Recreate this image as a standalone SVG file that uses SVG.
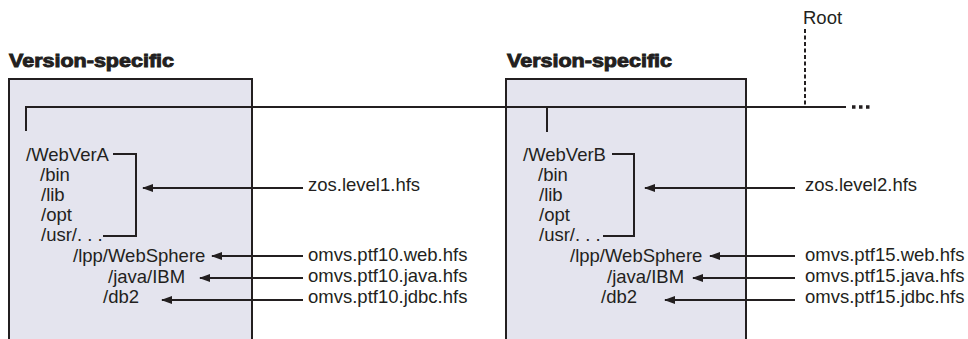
<svg xmlns="http://www.w3.org/2000/svg" width="968" height="339" viewBox="0 0 968 339">
<style>
.box{fill:#e4e4ee;stroke:#231f20;stroke-width:2}
.ln{fill:none;stroke:#231f20;stroke-width:2}
.t{font-family:"Liberation Sans",Arial,sans-serif;font-size:18.5px;fill:#231f20}
.h{font-family:"Liberation Sans",Arial,sans-serif;font-size:18px;font-weight:bold;fill:#231f20;stroke:#231f20;stroke-width:0.9}
</style>
<defs>
<marker id="ah" markerWidth="11" markerHeight="8" refX="10" refY="4" orient="auto" markerUnits="userSpaceOnUse">
<path d="M0,0 L11,4 L0,8 Z" fill="#231f20"/>
</marker>
</defs>
<g id="boxA">
<rect class="box" x="9" y="79" width="243" height="270"/>
<text class="h" x="9" y="67" textLength="165" lengthAdjust="spacingAndGlyphs">Version-specific</text>
<text class="t" x="26" y="161">/WebVerA</text>
<text class="t" x="40" y="181">/bin</text>
<text class="t" x="41" y="201">/lib</text>
<text class="t" x="41" y="221">/opt</text>
<text class="t" x="41" y="241">/usr/. . .</text>
<text class="t" x="73" y="262">/lpp/WebSphere</text>
<text class="t" x="108" y="283">/java/IBM</text>
<text class="t" x="103" y="303">/db2</text>
</g>
<g id="boxB">
<rect class="box" x="506" y="79" width="240" height="270"/>
<text class="h" x="507" y="67" textLength="165" lengthAdjust="spacingAndGlyphs">Version-specific</text>
<text class="t" x="523" y="161">/WebVerB</text>
<text class="t" x="538" y="181">/bin</text>
<text class="t" x="539" y="201">/lib</text>
<text class="t" x="539" y="221">/opt</text>
<text class="t" x="539" y="241">/usr/. . .</text>
<text class="t" x="570" y="262">/lpp/WebSphere</text>
<text class="t" x="607" y="283">/java/IBM</text>
<text class="t" x="601" y="303">/db2</text>
</g>
<g id="root">
<text class="t" x="803" y="24">Root</text>
</g>
<g id="labels">
<text class="t" x="308" y="191">zos.level1.hfs</text>
<text class="t" x="308" y="261">omvs.ptf10.web.hfs</text>
<text class="t" x="308" y="282">omvs.ptf10.java.hfs</text>
<text class="t" x="308" y="303">omvs.ptf10.jdbc.hfs</text>
<text class="t" x="805" y="191">zos.level2.hfs</text>
<text class="t" x="805" y="261">omvs.ptf15.web.hfs</text>
<text class="t" x="805" y="282">omvs.ptf15.java.hfs</text>
<text class="t" x="805" y="303">omvs.ptf15.jdbc.hfs</text>
</g>
<g id="connectors">
<path class="ln" d="M26,131 V107 H846"/>
<path class="ln" d="M547,107 V132"/>
<path d="M805,29 V107" fill="none" stroke="#231f20" stroke-width="2" stroke-dasharray="4,2.5"/>
<path d="M852,107 H870" fill="none" stroke="#231f20" stroke-width="3.5" stroke-dasharray="3.5,3.5"/>
<path class="ln" d="M113,154 H136 V236 H103"/>
<path class="ln" d="M612,154 H634 V236 H603"/>
<path class="ln" d="M303,188 H143" marker-end="url(#ah)"/>
<path class="ln" d="M303,256 H212" marker-end="url(#ah)"/>
<path class="ln" d="M303,278 H200" marker-end="url(#ah)"/>
<path class="ln" d="M303,300 H162" marker-end="url(#ah)"/>
<path class="ln" d="M795,188 H645" marker-end="url(#ah)"/>
<path class="ln" d="M795,256 H710" marker-end="url(#ah)"/>
<path class="ln" d="M795,278 H693" marker-end="url(#ah)"/>
<path class="ln" d="M795,300 H665" marker-end="url(#ah)"/>
</g>
</svg>
